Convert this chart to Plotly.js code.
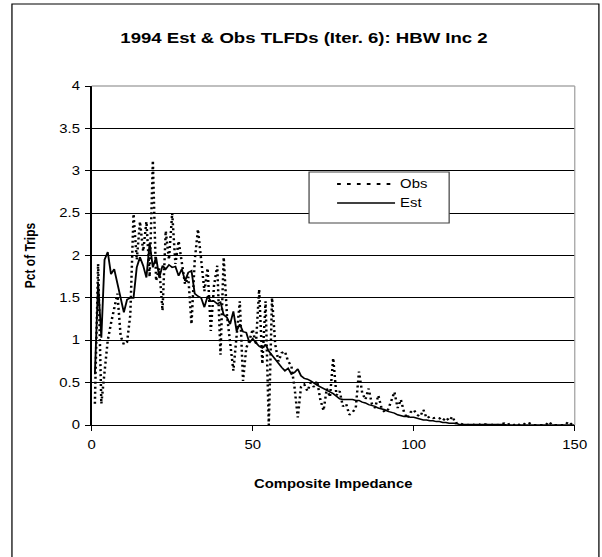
<!DOCTYPE html>
<html>
<head>
<meta charset="utf-8">
<script src="https://cdn.plot.ly/plotly-3.0.1.min.js"></script>
<style>
  html, body { margin: 0; padding: 0; background: #fff; overflow: hidden; }
  #wrap { width: 602px; height: 557px; overflow: hidden; position: relative; }
  #chart { width: 486px; height: 557px; transform: scaleX(1.2387); transform-origin: 0 0; }
</style>
</head>
<body>
<div id="wrap"><div id="chart"></div></div>
<script>
// ---- data ----
const impedance = Array.from({length: 150}, (_, i) => i + 1);

const obsPct = [
  0.25, 1.9, 0.25, 0.6, 1.0, 1.2, 1.4, 1.55, 1.05, 0.95,
  0.98, 1.3, 2.49, 1.95, 2.4, 2.05, 2.4, 1.75, 3.12, 1.7,
  1.85, 1.35, 2.29, 1.95, 2.5, 1.9, 2.17, 1.9, 1.66, 1.75,
  1.19, 1.94, 2.31, 1.95, 1.58, 1.85, 1.11, 1.65, 1.88, 0.83,
  1.98, 1.3, 1.0, 0.64, 1.05, 1.46, 0.52, 0.91, 1.0, 1.13,
  0.95, 1.6, 0.72, 1.46, 0.0, 1.5, 0.95, 0.75, 0.85, 0.87,
  0.75, 0.7, 0.44, 0.09, 0.45, 0.48, 0.4, 0.5, 0.45, 0.52,
  0.3, 0.17, 0.43, 0.33, 0.79, 0.35, 0.4, 0.22, 0.25, 0.12,
  0.15, 0.2, 0.63, 0.38, 0.3, 0.43, 0.25, 0.2, 0.35, 0.2,
  0.15, 0.18, 0.28, 0.39, 0.2, 0.3, 0.15, 0.08, 0.15, 0.18,
  0.12, 0.1, 0.18, 0.08, 0.1, 0.08, 0.09, 0.08, 0.05, 0.09,
  0.05, 0.1, 0.02, 0.03, 0.01, 0.01, 0.0, 0.01, 0.0, 0.01,
  0.0, 0.01, 0.0, 0.0, 0.01, 0.0, 0.01, 0.02, 0.0, 0.02,
  0.0, 0.02, 0.0, 0.02, 0.0, 0.02, 0.0, 0.0, 0.0, 0.0,
  0.0, 0.04, 0.0, 0.0, 0.0, 0.0, 0.0, 0.04, 0.01, 0.0
];

const estPct = [
  0.6, 1.68, 1.03, 1.95, 2.04, 1.78, 1.84, 1.66, 1.5, 1.33,
  1.48, 1.5, 1.5, 1.86, 1.98, 1.88, 1.74, 2.15, 1.86, 1.98,
  1.74, 1.88, 1.84, 1.89, 1.86, 1.87, 1.76, 1.84, 1.7, 1.8,
  1.82, 1.55, 1.52, 1.5, 1.39, 1.52, 1.46, 1.46, 1.43, 1.45,
  1.3, 1.27, 1.19, 1.34, 1.11, 1.19, 1.1, 1.09, 0.97, 1.02,
  0.97, 0.93, 0.91, 0.95, 0.87, 0.82, 0.77, 0.72, 0.68, 0.64,
  0.67, 0.6, 0.62, 0.66, 0.58, 0.55, 0.54, 0.52, 0.49, 0.47,
  0.45, 0.43, 0.41, 0.4, 0.37, 0.34, 0.31, 0.3, 0.3, 0.3,
  0.3, 0.29, 0.29, 0.27, 0.26, 0.24, 0.23, 0.22, 0.2, 0.19,
  0.18, 0.16, 0.15, 0.14, 0.12, 0.11, 0.1, 0.1, 0.09, 0.09,
  0.08, 0.07, 0.06, 0.06, 0.05, 0.05, 0.04, 0.04, 0.03, 0.03,
  0.02, 0.02, 0.02, 0.01, 0.01, 0.01, 0.01, 0.01, 0.01, 0.01,
  0.01, 0.01, 0.01, 0.005, 0.005, 0.005, 0.005, 0.005, 0.0, 0.0,
  0.0, 0.0, 0.0, 0.0, 0.0, 0.0, 0.0, 0.0, 0.0, 0.0,
  0.0, 0.0, 0.0, 0.0, 0.0, 0.0, 0.0, 0.0, 0.0, 0.0
];

const seriesNames = ['Obs', 'Est'];
const chartTitle = '1994 Est & Obs TLFDs (Iter. 6): HBW Inc 2';
const xTitle = 'Composite Impedance';
const yTitle = 'Pct of Trips';
const xTicks = [0, 50, 100, 150];
const yTicks = [0, 0.5, 1, 1.5, 2, 2.5, 3, 3.5, 4];

// ---- chart ----
const FONT = 'Liberation Sans, Arial, sans-serif';
const OBS_DASH = '2px,3px';
const OBS_LEGEND_DASH = '3px,5px';

const traces = [
  {
    x: impedance, y: obsPct, name: seriesNames[0], type: 'scatter', mode: 'lines',
    line: {color: '#000', width: 2, dash: OBS_DASH}, showlegend: false
  },
  {
    x: impedance, y: estPct, name: seriesNames[1], type: 'scatter', mode: 'lines',
    line: {color: '#000', width: 1.5}, showlegend: false
  }
];

// custom legend geometry (paper coords)
const lg = {x0: 0.450, x1: 0.740, y0: 0.596, y1: 0.746, lx0: 0.508, lx1: 0.628, tx: 0.633, yObs: 0.711, yEst: 0.655};

const layout = {
  width: 486, height: 557,
  margin: {l: 74, r: 22, t: 86, b: 132, pad: 0},
  paper_bgcolor: '#fff', plot_bgcolor: '#fff',
  font: {family: FONT, size: 12, color: '#000'},
  title: {
    text: '<b>' + chartTitle + '</b>',
    font: {family: FONT, size: 15, color: '#000'},
    xref: 'container', x: 0.505, xanchor: 'center',
    yref: 'container', y: 1 - 38 / 557, yanchor: 'middle'
  },
  xaxis: {
    range: [0, 150], tickvals: xTicks, ticktext: xTicks.map(String),
    showgrid: false, zeroline: false,
    showline: true, linecolor: '#000', linewidth: 1,
    ticks: 'outside', ticklen: 5, tickcolor: '#000', tickwidth: 1,
    ticklabelstandoff: 4,
    tickfont: {family: FONT, size: 12, color: '#000'},
    title: {text: '<b>' + xTitle + '</b>', font: {family: FONT, size: 12, color: '#000'}, standoff: 28},
    fixedrange: true
  },
  yaxis: {
    range: [0, 4], tickvals: yTicks, ticktext: yTicks.map(String),
    showgrid: true, gridcolor: '#000', gridwidth: 1,
    zeroline: false,
    showline: true, linecolor: '#000', linewidth: 1,
    ticks: 'outside', ticklen: 4, tickcolor: '#000', tickwidth: 1,
    ticklabelstandoff: 2,
    tickfont: {family: FONT, size: 12, color: '#000'},
    title: {text: '<b>' + yTitle + '</b>', font: {family: FONT, size: 12, color: '#000'}, standoff: 16},
    fixedrange: true
  },
  shapes: [
    // outer chart frame
    {type: 'rect', xref: 'paper', yref: 'paper', x0: -0.165, x1: 1.050, y0: -0.5, y1: 1.2419,
     line: {color: '#000', width: 1}, fillcolor: 'rgba(0,0,0,0)', layer: 'above'},
    // plot area top/right border (grey)
    {type: 'line', xref: 'paper', yref: 'paper', x0: 0, x1: 1, y0: 1, y1: 1, line: {color: '#808080', width: 1}, layer: 'above'},
    {type: 'line', xref: 'paper', yref: 'paper', x0: 1, x1: 1, y0: 0, y1: 1, line: {color: '#a0a0a0', width: 1}, layer: 'above'},
    // legend box
    {type: 'rect', xref: 'paper', yref: 'paper', x0: lg.x0, x1: lg.x1, y0: lg.y0, y1: lg.y1,
     line: {color: '#444', width: 1}, fillcolor: '#fff', layer: 'above'},
    {type: 'line', xref: 'paper', yref: 'paper', x0: lg.lx0, x1: lg.lx1, y0: lg.yObs, y1: lg.yObs,
     line: {color: '#000', width: 2, dash: OBS_LEGEND_DASH}, layer: 'above'},
    {type: 'line', xref: 'paper', yref: 'paper', x0: lg.lx0, x1: lg.lx1, y0: lg.yEst, y1: lg.yEst,
     line: {color: '#000', width: 1.5}, layer: 'above'}
  ],
  annotations: [
    {xref: 'paper', yref: 'paper', x: lg.tx, y: lg.yObs, text: seriesNames[0], showarrow: false,
     xanchor: 'left', yanchor: 'middle', font: {family: FONT, size: 12, color: '#000'}},
    {xref: 'paper', yref: 'paper', x: lg.tx, y: lg.yEst, text: seriesNames[1], showarrow: false,
     xanchor: 'left', yanchor: 'middle', font: {family: FONT, size: 12, color: '#000'}}
  ],
  showlegend: false
};

Plotly.newPlot('chart', traces, layout, {displayModeBar: false, staticPlot: true});
</script>
</body>
</html>
